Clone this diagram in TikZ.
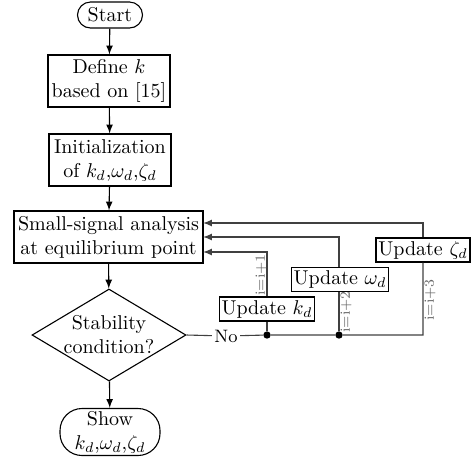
\documentclass[tikz,border=0pt]{standalone}
\usetikzlibrary{shapes.geometric}

\begin{document}
\begin{tikzpicture}[x=0.5pt,y=-0.5pt,line width=0.55pt,
  process/.style={draw,rectangle,align=center,inner sep=1pt},
  terminal/.style={draw,rectangle,rounded corners=#1,align=center,inner sep=1pt},
  update/.style={draw,rectangle,inner sep=1pt,minimum width=47pt,minimum height=12pt},
  decision/.style={draw,diamond,inner sep=0pt,minimum width=77pt,minimum height=46pt},
  loop/.style={draw=black!75},
  junction/.style={circle,fill,inner sep=1.3pt},
  stepnote/.style={text=black!60,font=\scriptsize,rotate=90,inner sep=1pt}]
  \useasboundingbox (0,0) rectangle (476,463);
  % main flow
  \node[terminal=6.5pt,minimum width=32.5pt,minimum height=13pt] (start) at (110,15) {Start};
  \node[process,minimum width=61pt,minimum height=26pt] (def) at (109,81) {Define $k$\\based on [15]};
  \node[process,minimum width=61pt,minimum height=26pt] (init) at (110,160) {Initialization\\of $k_d$,$\omega_d$,$\zeta_d$};
  \node[process,minimum width=94.5pt,minimum height=26pt] (ss) at (108.5,237) {Small-signal analysis\\at equilibrium point};
  \node[decision] (stab) at (109,335) {};
  \node[align=center,inner sep=0pt] (stabtxt) at (stab) {Stability\\condition?};
  \node[terminal=11pt,minimum width=50pt,minimum height=23.5pt] (show) at (110,432) {Show\\$k_d$,$\omega_d$,$\zeta_d$};
  \draw[-latex] (start) -- (def);
  \draw[-latex] (def) -- (init);
  \draw[-latex] (init) -- (ss);
  \draw[-latex] (ss) -- (stab);
  \draw[-latex] (stab) -- (show);
  % updates
  \node[update] (upk) at (267,309) {Update $k_d$};
  \node[update] (upw) at (340,279.5) {Update $\omega_d$};
  \node[update] (upz) at (423,250) {Update $\zeta_d$};
  \node[font=\small,inner sep=1pt] (no) at (226,336) {No};
  \node[junction] (j1) at (267,335) {};
  \node[junction] (j2) at (339,335) {};
  \coordinate (c3) at (423,335);
  \coordinate (in1) at (203,252);
  \coordinate (in2) at (203,237);
  \coordinate (in3) at (203,223);
  \draw[loop] (stab.east) -- (no);
  \draw[loop] (no) -- (j1) -- (j2) -- (c3) -- (upz);
  \draw[loop] (j1) -- (upk);
  \draw[loop] (j2) -- (upw.south -| j2);
  \draw[loop,-latex] (upk) |- (in1);
  \draw[loop,-latex] (upw.north -| j2) |- (in2);
  \draw[loop,-latex] (upz) |- (in3);
  \node[stepnote] (n1) at (261,275) {i=i+1};
  \node[stepnote] (n2) at (346,312) {i=i+2};
  \node[stepnote] (n3) at (430,300) {i=i+3};
\end{tikzpicture}
\end{document}
